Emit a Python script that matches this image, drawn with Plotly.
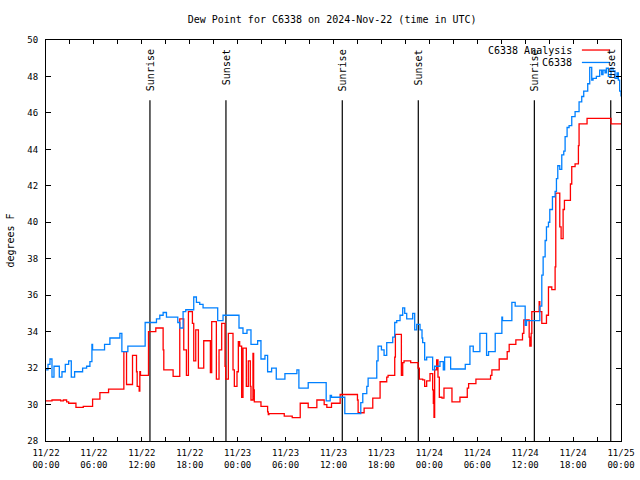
import plotly.graph_objects as go

# ---------------- data ----------------
obs_time = [
    "2024-11-22 00:00", "2024-11-22 00:15", "2024-11-22 00:30", "2024-11-22 00:45", "2024-11-22 01:00",
    "2024-11-22 01:40", "2024-11-22 02:00", "2024-11-22 02:25", "2024-11-22 02:50", "2024-11-22 03:10",
    "2024-11-22 03:35", "2024-11-22 04:35", "2024-11-22 05:05", "2024-11-22 05:30", "2024-11-22 05:45",
    "2024-11-22 05:50", "2024-11-22 07:20", "2024-11-22 08:00", "2024-11-22 09:15", "2024-11-22 09:30",
    "2024-11-22 10:15", "2024-11-22 12:25", "2024-11-22 13:50", "2024-11-22 14:15", "2024-11-22 14:40",
    "2024-11-22 15:05", "2024-11-22 16:30", "2024-11-22 16:45", "2024-11-22 17:10", "2024-11-22 17:30",
    "2024-11-22 18:30", "2024-11-22 18:50", "2024-11-22 19:15", "2024-11-22 19:40", "2024-11-22 21:30",
    "2024-11-22 22:10", "2024-11-23 00:10", "2024-11-23 00:40", "2024-11-23 01:10", "2024-11-23 01:40",
    "2024-11-23 02:30", "2024-11-23 02:55", "2024-11-23 03:25", "2024-11-23 03:45", "2024-11-23 04:15",
    "2024-11-23 04:50", "2024-11-23 05:55", "2024-11-23 07:25", "2024-11-23 07:40", "2024-11-23 08:50",
    "2024-11-23 11:05", "2024-11-23 11:35", "2024-11-23 11:45", "2024-11-23 13:25", "2024-11-23 15:25",
    "2024-11-23 15:40", "2024-11-23 16:10", "2024-11-23 16:20", "2024-11-23 17:25", "2024-11-23 17:35",
    "2024-11-23 18:00", "2024-11-23 18:20", "2024-11-23 18:40", "2024-11-23 19:25", "2024-11-23 19:40",
    "2024-11-23 19:55", "2024-11-23 20:20", "2024-11-23 20:40", "2024-11-23 20:55", "2024-11-23 21:10",
    "2024-11-23 21:55", "2024-11-23 22:10", "2024-11-23 22:25", "2024-11-23 22:50", "2024-11-23 23:05",
    "2024-11-23 23:10", "2024-11-23 23:25", "2024-11-23 23:40", "2024-11-24 00:25", "2024-11-24 00:40",
    "2024-11-24 01:20", "2024-11-24 01:45", "2024-11-24 01:55", "2024-11-24 02:40", "2024-11-24 04:30",
    "2024-11-24 05:05", "2024-11-24 05:30", "2024-11-24 06:20", "2024-11-24 07:10", "2024-11-24 07:25",
    "2024-11-24 08:15", "2024-11-24 09:05", "2024-11-24 09:10", "2024-11-24 10:20", "2024-11-24 10:45",
    "2024-11-24 12:00", "2024-11-24 12:10", "2024-11-24 13:50", "2024-11-24 14:05", "2024-11-24 14:15",
    "2024-11-24 14:30", "2024-11-24 14:40", "2024-11-24 14:55", "2024-11-24 15:05", "2024-11-24 15:25",
    "2024-11-24 15:45", "2024-11-24 15:55", "2024-11-24 16:05", "2024-11-24 16:20", "2024-11-24 16:35",
    "2024-11-24 16:50", "2024-11-24 17:00", "2024-11-24 17:15", "2024-11-24 17:30", "2024-11-24 17:50",
    "2024-11-24 18:15", "2024-11-24 18:45", "2024-11-24 19:05", "2024-11-24 19:20", "2024-11-24 19:50",
    "2024-11-24 20:05", "2024-11-24 20:20", "2024-11-24 20:30", "2024-11-24 20:55", "2024-11-24 21:20",
    "2024-11-24 21:35", "2024-11-24 21:45", "2024-11-24 22:00", "2024-11-24 22:10", "2024-11-24 22:25",
    "2024-11-24 22:45", "2024-11-24 23:00", "2024-11-24 23:15", "2024-11-24 23:30", "2024-11-24 23:40",
    "2024-11-24 23:50", "2024-11-25 00:00",
]
obs_dewpoint = [
    31.9, 32.2, 32.5, 31.5, 32.1,
    31.5, 31.8, 32.2, 32.4, 31.5,
    31.8, 32.0, 32.1, 32.35, 33.3,
    33.0, 33.3, 33.65, 33.9, 32.9,
    33.2, 34.5, 34.7, 34.9, 35.05,
    34.8, 34.5, 34.2, 35.1, 35.2,
    35.9, 35.6, 35.5, 35.3, 34.6,
    34.9, 34.2, 33.9, 34.1, 33.3,
    33.5, 32.5, 32.7, 31.8, 32.0,
    31.4, 31.7, 31.9, 30.9, 31.2,
    30.2, 30.5, 30.4, 29.5, 30.1,
    30.6, 31.0, 31.45, 32.4, 33.2,
    33.0, 32.7, 33.4, 33.7, 34.5,
    34.6, 34.9, 35.3, 35.0, 34.7,
    35.0, 34.1, 34.4, 34.1, 33.65,
    33.4, 32.45, 32.6, 31.9, 32.1,
    32.35, 31.9, 32.6, 31.95, 32.2,
    33.2, 32.9, 33.9, 32.7, 32.9,
    33.9, 34.8, 34.6, 35.6, 35.4,
    34.35, 34.6, 35.4, 37.1, 38.1,
    39.0, 39.75, 40.0, 40.7, 41.4,
    41.7, 42.4, 43.1, 42.9, 43.7,
    43.9, 44.7, 45.2, 45.3, 45.8,
    46.07, 46.6, 46.9, 47.2, 47.6,
    48.5, 47.8, 47.9, 48.0, 48.35,
    48.1, 48.35, 48.2, 48.45, 48.0,
    48.45, 48.3, 47.9, 48.2, 47.8,
    47.2, 46.9,
]

ana_time = [
    "2024-11-22 00:00", "2024-11-22 00:45", "2024-11-22 01:50", "2024-11-22 02:10", "2024-11-22 02:35",
    "2024-11-22 02:50", "2024-11-22 03:45", "2024-11-22 04:40", "2024-11-22 05:50", "2024-11-22 06:45",
    "2024-11-22 07:50", "2024-11-22 09:45", "2024-11-22 10:05", "2024-11-22 10:50", "2024-11-22 11:20",
    "2024-11-22 11:25", "2024-11-22 11:40", "2024-11-22 11:45", "2024-11-22 11:50", "2024-11-22 12:50",
    "2024-11-22 13:45", "2024-11-22 14:40", "2024-11-22 14:45", "2024-11-22 15:55", "2024-11-22 16:45",
    "2024-11-22 17:15", "2024-11-22 17:35", "2024-11-22 17:50", "2024-11-22 18:20", "2024-11-22 18:30",
    "2024-11-22 18:45", "2024-11-22 19:05", "2024-11-22 19:45", "2024-11-22 20:35", "2024-11-22 20:45",
    "2024-11-22 21:20", "2024-11-22 21:40", "2024-11-22 22:00", "2024-11-22 22:25", "2024-11-22 22:30",
    "2024-11-22 22:50", "2024-11-22 23:25", "2024-11-22 23:35", "2024-11-22 23:55", "2024-11-23 00:05",
    "2024-11-23 00:15", "2024-11-23 00:30", "2024-11-23 00:40", "2024-11-23 01:05", "2024-11-23 01:20",
    "2024-11-23 01:35", "2024-11-23 01:40", "2024-11-23 01:55", "2024-11-23 02:00", "2024-11-23 02:05",
    "2024-11-23 02:55", "2024-11-23 03:45", "2024-11-23 03:50", "2024-11-23 03:55", "2024-11-23 05:50",
    "2024-11-23 06:50", "2024-11-23 07:50", "2024-11-23 08:50", "2024-11-23 09:55", "2024-11-23 10:50",
    "2024-11-23 11:10", "2024-11-23 11:45", "2024-11-23 12:50", "2024-11-23 15:00", "2024-11-23 15:05",
    "2024-11-23 15:50", "2024-11-23 16:55", "2024-11-23 17:50", "2024-11-23 18:40", "2024-11-23 18:50",
    "2024-11-23 19:40", "2024-11-23 19:45", "2024-11-23 20:30", "2024-11-23 20:40", "2024-11-23 20:50",
    "2024-11-23 21:40", "2024-11-23 22:35", "2024-11-23 22:45", "2024-11-23 23:10", "2024-11-23 23:25",
    "2024-11-23 23:40", "2024-11-24 00:05", "2024-11-24 00:25", "2024-11-24 00:30", "2024-11-24 00:35",
    "2024-11-24 00:40", "2024-11-24 00:55", "2024-11-24 01:05", "2024-11-24 01:15", "2024-11-24 01:35",
    "2024-11-24 01:50", "2024-11-24 02:50", "2024-11-24 03:50", "2024-11-24 04:45", "2024-11-24 04:55",
    "2024-11-24 05:50", "2024-11-24 07:40", "2024-11-24 07:50", "2024-11-24 08:45", "2024-11-24 09:45",
    "2024-11-24 10:00", "2024-11-24 10:50", "2024-11-24 11:40", "2024-11-24 11:50", "2024-11-24 12:30",
    "2024-11-24 12:35", "2024-11-24 12:45", "2024-11-24 12:50", "2024-11-24 13:45", "2024-11-24 13:50",
    "2024-11-24 14:05", "2024-11-24 14:40", "2024-11-24 14:55", "2024-11-24 15:20", "2024-11-24 15:45",
    "2024-11-24 15:50", "2024-11-24 16:20", "2024-11-24 16:30", "2024-11-24 16:45", "2024-11-24 16:55",
    "2024-11-24 17:40", "2024-11-24 17:50", "2024-11-24 18:15", "2024-11-24 18:40", "2024-11-24 18:45",
    "2024-11-24 19:45", "2024-11-24 22:45", "2024-11-25 00:00",
]
ana_dewpoint = [
    30.2, 30.25, 30.2, 30.25, 30.15,
    30.07, 29.85, 29.9, 30.3, 30.65,
    30.85, 32.9, 31.1, 32.7, 31.8,
    31.0, 30.74, 31.8, 31.6, 34.0,
    34.2, 33.0, 31.9, 31.55, 34.7,
    33.0, 31.6, 35.1, 34.45, 32.4,
    34.1, 32.0, 33.5, 31.75, 34.55,
    31.4, 33.0, 34.45, 32.1, 31.4,
    33.9, 31.9, 31.0, 31.8, 33.45,
    33.2, 30.4, 33.1, 31.0, 32.4,
    31.0, 30.25, 32.8, 30.8, 30.15,
    29.9, 29.6, 29.45, 29.5, 29.37,
    29.28, 30.07, 29.83, 30.25, 30.0,
    29.85, 30.07, 30.55, 30.25, 29.55,
    29.8, 30.35, 31.25, 31.5, 31.6,
    32.6, 33.85, 31.6, 32.3, 32.4,
    32.3, 32.0, 31.4, 31.35, 31.0,
    31.3, 31.7, 30.8, 30.07, 29.3,
    31.9, 32.45, 31.5, 30.4, 30.35,
    30.9, 30.15, 30.4, 30.9, 31.15,
    31.4, 31.6, 31.9, 32.5, 32.9,
    33.3, 33.55, 33.9, 34.65, 33.7,
    33.2, 33.9, 35.1, 35.65, 35.1,
    34.45, 34.9, 36.45, 36.3, 37.55,
    41.6, 39.75, 39.1, 40.7, 41.2,
    42.1, 43.05, 43.2, 44.2, 45.4,
    45.7, 45.4, 45.4,
]

sun_event_time = ["2024-11-22 13:01", "2024-11-22 22:32", "2024-11-23 13:06",
                  "2024-11-23 22:37", "2024-11-24 13:09", "2024-11-24 22:43"]
sun_event_label = ["Sunrise", "Sunset", "Sunrise", "Sunset", "Sunrise", "Sunset"]

tick_time = ["2024-11-22 00:00", "2024-11-22 03:00", "2024-11-22 06:00", "2024-11-22 09:00",
             "2024-11-22 12:00", "2024-11-22 15:00", "2024-11-22 18:00", "2024-11-22 21:00",
             "2024-11-23 00:00", "2024-11-23 03:00", "2024-11-23 06:00", "2024-11-23 09:00",
             "2024-11-23 12:00", "2024-11-23 15:00", "2024-11-23 18:00", "2024-11-23 21:00",
             "2024-11-24 00:00", "2024-11-24 03:00", "2024-11-24 06:00", "2024-11-24 09:00",
             "2024-11-24 12:00", "2024-11-24 15:00", "2024-11-24 18:00", "2024-11-24 21:00",
             "2024-11-25 00:00"]
tick_label = ["11/22<br>00:00", "", "11/22<br>06:00", "", "11/22<br>12:00", "", "11/22<br>18:00", "",
              "11/23<br>00:00", "", "11/23<br>06:00", "", "11/23<br>12:00", "", "11/23<br>18:00", "",
              "11/24<br>00:00", "", "11/24<br>06:00", "", "11/24<br>12:00", "", "11/24<br>18:00", "",
              "11/25<br>00:00"]

series_names = ["C6338 Analysis", "C6338"]
series_colors = ["#ff0000", "#0080ff"]

Y_MIN, Y_MAX = 28, 50
SUN_LINE_TOP = 46.7

FONT = "DejaVu Sans Mono"

fig = go.Figure()

# sunrise / sunset lines
for t in sun_event_time:
    fig.add_trace(go.Scatter(x=[t, t], y=[Y_MIN, SUN_LINE_TOP], mode="lines",
                             line=dict(color="black", width=1.2), showlegend=False,
                             hoverinfo="skip"))

fig.add_trace(go.Scatter(x=ana_time, y=ana_dewpoint, mode="lines", line_shape="hv",
                         name=series_names[0], line=dict(color=series_colors[0], width=1.3),
                         showlegend=False))
fig.add_trace(go.Scatter(x=obs_time, y=obs_dewpoint, mode="lines", line_shape="hv",
                         name=series_names[1], line=dict(color=series_colors[1], width=1.3),
                         showlegend=False))

annotations = []
for t, lab in zip(sun_event_time, sun_event_label):
    annotations.append(dict(x=t, xref="x", y=0.982, yref="paper", text=lab, textangle=-90,
                            showarrow=False, xanchor="center", yanchor="top",
                            font=dict(family=FONT, size=10, color="black")))

# manual gnuplot-style legend (text then sample line)
legend_rows_y = [0.975, 0.944]
for name, col, yy in zip(series_names, series_colors, legend_rows_y):
    annotations.append(dict(x=0.918, xref="paper", y=yy, yref="paper", text=name,
                            showarrow=False, xanchor="right", yanchor="middle",
                            font=dict(family=FONT, size=10, color="black")))
    fig.add_shape(type="line", xref="paper", yref="paper", x0=0.932, x1=0.981, y0=yy, y1=yy,
                  line=dict(color=col, width=1.3))

fig.update_layout(
    width=640, height=480,
    margin=dict(l=46, r=19, t=40, b=39),
    paper_bgcolor="white", plot_bgcolor="white",
    font=dict(family=FONT, size=9, color="black"),
    title=dict(text="Dew Point for C6338 on 2024-Nov-22 (time in UTC)", x=0.519, xanchor="center",
               y=0.96, yanchor="middle", font=dict(family=FONT, size=10, color="black")),
    annotations=annotations,
    showlegend=False,
)
fig.update_xaxes(type="date", range=[tick_time[0], tick_time[-1]], tickvals=tick_time,
                 ticktext=tick_label, ticks="inside", ticklen=4, tickcolor="black",
                 showline=True, linecolor="black", linewidth=1, mirror="ticks",
                 showgrid=False, zeroline=False, tickfont=dict(family=FONT, size=9),
                 ticklabelstandoff=3, automargin=False)
fig.update_yaxes(range=[Y_MIN, Y_MAX], dtick=2, ticks="inside", ticklen=5, tickcolor="black",
                 showline=True, linecolor="black", linewidth=1, mirror="ticks",
                 showgrid=False, zeroline=False, tickfont=dict(family=FONT, size=9),
                 ticklabelstandoff=5, automargin=False,
                 title=dict(text="degrees F", font=dict(family=FONT, size=10), standoff=10))

fig.write_html("out.html", config={"displayModeBar": False},
               post_script="document.body.style.margin='0';")
